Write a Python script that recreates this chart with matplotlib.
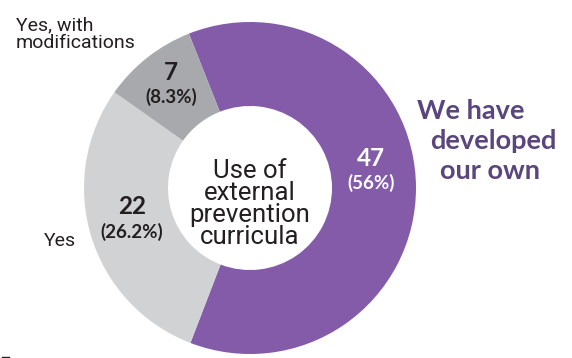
import matplotlib.pyplot as plt
from matplotlib.lines import Line2D

plt.rcParams["font.family"] = ["Lato", "DejaVu Sans"]

answers = ["We have\ndeveloped\nour own", "Yes", "Yes, with\nmodifications"]
counts = [47, 22, 7]
shares = ["56%", "26.2%", "8.3%"]
colors = ["#845BA8", "#D1D2D4", "#A7A9AC"]

R_OUT = 166
R_IN = 82


def px(x, y):
    # pixel position (from top-left) -> data coords around the donut centre
    return x - 250, 188 - y


fig = plt.figure(figsize=(5.72, 3.58), dpi=100)
ax = fig.add_axes([0, 0, 1, 1])

ax.pie(counts, colors=colors, radius=R_OUT, startangle=111.6, counterclock=False,
       wedgeprops=dict(width=R_OUT - R_IN, linewidth=0))

# pie() resets the limits, so set them afterwards
ax.set_xlim(-250, 322)
ax.set_ylim(-170, 188)
ax.set_aspect("equal")
ax.axis("off")

dark = "#231F20"
label_font = ["Roboto", "DejaVu Sans"]

# count + share labels inside each slice
num_pos = [(371, 159), (132, 207), (171, 72)]
pct_pos = [(371, 183), (132, 232), (171, 97)]
num_colors = ["white", dark, dark]
for n, s, p1, p2, c in zip(counts, shares, num_pos, pct_pos, num_colors):
    ax.text(*px(*p1), str(n), ha="center", va="center", fontsize=17.5,
            fontweight="bold", color=c)
    ax.text(*px(*p2), f"({s})", ha="center", va="center", fontsize=13.5,
            fontweight="bold", color=c)

# centre title
ax.text(*px(250, 204), "Use of\nexternal\nprevention\ncurricula", ha="center",
        va="center", fontsize=18.5, color=dark, linespacing=0.88,
        family=label_font)

# category labels
ax.text(*px(16, 34), answers[2], ha="left", va="center", fontsize=14,
        color=dark, linespacing=1.0, family=label_font)
ax.text(*px(44, 241), answers[1], ha="left", va="center", fontsize=14,
        color=dark, family=label_font)

label_purple = "#5A467D"
for line, (x, y) in zip(answers[0].split("\n"), [(417, 111), (430, 141), (440, 171)]):
    ax.text(*px(x, y), line, ha="left", va="center", fontsize=19.5,
            fontweight="bold", color=label_purple)

fig.add_artist(Line2D([2 / 572, 9 / 572], [1.5 / 358, 1.5 / 358],
                      color=dark, linewidth=1))

fig.savefig("out.png", dpi=100)
